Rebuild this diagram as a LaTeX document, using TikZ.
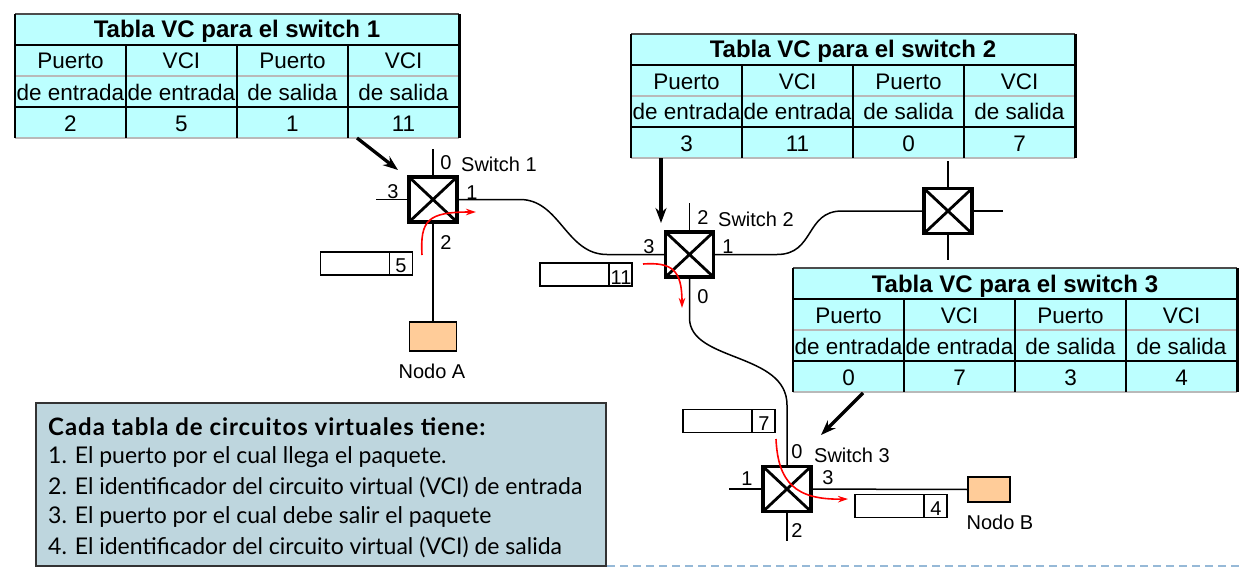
\documentclass[tikz,border=0pt]{standalone}
\usepackage{fontspec}
\setmainfont{Liberation Sans}
\newfontfamily\gillfont{Lato}
\newfontfamily\gillbold[LetterSpace=4]{Lato Bold}
\usetikzlibrary{arrows.meta}
\definecolor{tcyan}{RGB}{188,255,255}
\definecolor{peach}{RGB}{255,204,153}
\definecolor{boxbg}{RGB}{190,214,222}
\definecolor{dashblue}{RGB}{150,185,215}
\definecolor{gridgray}{RGB}{185,185,185}
\tikzset{
 txt/.style={inner sep=0pt, font=\fontsize{20}{20}\selectfont},
 celltxt/.style={inner sep=0pt, anchor=base, font=\fontsize{22.5}{22.5}\selectfont},
 titletxt/.style={inner sep=0pt, anchor=base, font=\fontsize{24}{24}\selectfont\bfseries},
 swbox/.style={draw, line width=3.8pt, minimum width=48pt, minimum height=45pt, inner sep=0pt, outer sep=0pt, fill=white},
 diag/.style={line width=2.8pt},
 wire/.style={line width=1.5pt},
 nodo/.style={draw, line width=1.5pt, fill=peach, inner sep=0pt, outer sep=0pt},
 pkt/.style={draw, line width=1.2pt, fill=white, minimum width=92pt, minimum height=23pt, inner sep=0pt, outer sep=0pt},
 redarrow/.style={red, line width=1.6pt, -{Stealth[length=10pt,width=6.5pt]}},
 blackarrow/.style={line width=3.3pt, -{Stealth[length=15pt,width=11pt]}},
 boxtxt/.style={inner sep=0pt, anchor=west, font=\gillfont\fontsize{23}{23}\selectfont},
}
% name, x, y, switch number, four values
\newcommand{\vctable}[8]{%
 \begin{scope}[shift={(#2,#3)}]
 \fill[tcyan] (0,0) rectangle (444,124);
 \draw[gridgray, line width=2pt] (0,62) -- (444,62);
 \draw[gridgray, line width=1.2pt] (0,124) -- (444,124);
 \draw[black!70, line width=1.5pt] (0,0) -- (444,0);
 \draw[line width=2pt] (0,31) -- (444,31);
 \draw[line width=2pt] (0,93) -- (444,93);
 \draw[line width=1.5pt] (0,0) -- (0,124);
 \draw[line width=3pt] (444,0) -- (444,124);
 \foreach \c in {111,222,333} \draw[line width=1.5pt] (\c,31) -- (\c,124);
 \node[titletxt] (#1title) at (222,24) {Tabla VC para el switch #4};
 \node[celltxt] (#1ha) at (55.5,55) {Puerto};
 \node[celltxt] (#1hb) at (166.5,55) {VCI};
 \node[celltxt] (#1hc) at (277.5,55) {Puerto};
 \node[celltxt] (#1hd) at (388.5,55) {VCI};
 \node[celltxt] (#1ia) at (55.5,86) {de entrada};
 \node[celltxt] (#1ib) at (166.5,86) {de entrada};
 \node[celltxt] (#1ic) at (277.5,86) {de salida};
 \node[celltxt] (#1id) at (388.5,86) {de salida};
 \node[celltxt] (#1va) at (55.5,117) {#5};
 \node[celltxt] (#1vb) at (166.5,117) {#6};
 \node[celltxt] (#1vc) at (277.5,117) {#7};
 \node[celltxt] (#1vd) at (388.5,117) {#8};
 \end{scope}}
\newcommand{\swx}[1]{\draw[diag] (#1.north west) -- (#1.south east) (#1.north east) -- (#1.south west);}
\begin{document}
\begin{tikzpicture}[x=1pt,y=-1pt]
\useasboundingbox (0,0) rectangle (1243,578);
% tables
\vctable{ta}{15}{14}{1}{2}{5}{1}{11}
\vctable{tb}{631}{34}{2}{3}{11}{0}{7}
\vctable{tc}{793}{268}{3}{0}{7}{3}{4}
% end nodes
\node[nodo, minimum width=47pt, minimum height=29pt] (nA) at (433,336.5) {};
\node[txt] (nAl) at (432,371) {Nodo A};
\node[nodo, minimum width=42pt, minimum height=25pt] (nB) at (989,489.5) {};
\node[txt] (nBl) at (1000,522) {Nodo B};
% switch positions
\coordinate (c1) at (433,199.5);
\coordinate (c2) at (689.5,254.5);
\coordinate (c4) at (948,211);
\coordinate (c3) at (787,489);
% wires
\draw[wire] (c1) -- ++(0,-50.5) coordinate (s1t);
\draw[wire] (c1) -- ++(-57,0) coordinate (s1l);
\draw[wire] (c1) -- (nA.north);
\draw[wire] (c1) -- (520,199.5) .. controls (560,199.5) and (566,254.5) .. (607,254.5) -- (c2);
\draw[wire] (c2) -- ++(0,-51.5) coordinate (s2t);
\draw[wire] (c2) -- (777,254.5) .. controls (815,254.5) and (805,211) .. (842,211) -- (c4);
\draw[wire] (c2) -- (689.5,318) .. controls (689.5,362) and (787,352) .. (787,405) -- (c3);
\draw[wire] (c4) -- ++(0,-50) coordinate (s4t);
\draw[wire] (c4) -- ++(0,49) coordinate (s4b);
\draw[wire] (c4) -- ++(55,0) coordinate (s4r);
\draw[wire] (c3) -- ++(-58,0) coordinate (s3l);
\draw[wire] (c3) -- ++(0,52) coordinate (s3b);
\draw[wire] (c3) -- (nB.west);
% switches
\node[swbox] (s1) at (c1) {}; \swx{s1}
\node[swbox] (s2) at (c2) {}; \swx{s2}
\node[swbox] (s4) at (c4) {}; \swx{s4}
\node[swbox] (s3) at (c3) {}; \swx{s3}
% port labels
\node[txt] (p10) at (446,163) {0};
\node[txt, anchor=west] (sw1) at (461,164) {Switch 1};
\node[txt] (p13) at (393,192) {3};
\node[txt] (p11) at (472,193) {1};
\node[txt] (p12) at (446,243) {2};
\node[txt] (p22) at (703,218) {2};
\node[txt, anchor=west] (sw2) at (718,219) {Switch 2};
\node[txt] (p23) at (649,247) {3};
\node[txt] (p21) at (728,247) {1};
\node[txt] (p20) at (703,297) {0};
\node[txt] (p30) at (797,452) {0};
\node[txt, anchor=west] (sw3) at (814,455) {Switch 3};
\node[txt] (p31) at (747,479) {1};
\node[txt] (p33) at (828,478) {3};
\node[txt] (p32) at (797,531) {2};
% packets
\node[pkt] (k5) at (366.5,263.5) {};
\draw[line width=1.2pt] ([xshift=69pt]k5.north west) -- ([xshift=69pt]k5.south west);
\node[txt] (k5n) at (401,266) {5};
\node[pkt] (k11) at (586,274.5) {};
\draw[line width=1.2pt] ([xshift=69pt]k11.north west) -- ([xshift=69pt]k11.south west);
\node[txt] (k11n) at (621,278) {11};
\node[pkt] (k7) at (729,421) {};
\draw[line width=1.2pt] ([xshift=69pt]k7.north west) -- ([xshift=69pt]k7.south west);
\node[txt] (k7n) at (764,424) {7};
\node[pkt] (k4) at (901,506) {};
\draw[line width=1.2pt] ([xshift=69pt]k4.north west) -- ([xshift=69pt]k4.south west);
\node[txt] (k4n) at (936,509) {4};
% red path arrows
\coordinate (r1a) at (422,255); \coordinate (r1b) at (476,212);
\draw[redarrow] (r1a) .. controls (420,220) and (428,212) .. (r1b);
\coordinate (r2a) at (643,264); \coordinate (r2b) at (682,308);
\draw[redarrow] (r2a) .. controls (672,262) and (682,270) .. (r2b);
\coordinate (r3a) at (776,439); \coordinate (r3b) at (848,499);
\draw[redarrow] (r3a) .. controls (778,482) and (795,500) .. (r3b);
% black pointer arrows
\coordinate (a1a) at (357,138); \coordinate (a1b) at (398,170);
\draw[blackarrow] (a1a) -- (a1b);
\coordinate (a2a) at (661,158); \coordinate (a2b) at (661,223);
\draw[blackarrow] (a2a) -- (a2b);
\coordinate (a3a) at (863,393); \coordinate (a3b) at (821,435);
\draw[blackarrow] (a3a) -- (a3b);
% text box
\node[draw=black!80, line width=1.5pt, fill=boxbg, minimum width=570pt, minimum height=163pt, inner sep=0pt] (tbox) at (321,484.5) {};
\node[boxtxt, font=\gillbold\fontsize{24}{24}\selectfont] (l0) at (48,427) {Cada tabla de circuitos virtuales tiene:};
\node[boxtxt] (l1) at (48,457) {1. El puerto por el cual llega el paquete.};
\node[boxtxt] (l2) at (48,487) {2. El identificador del circuito virtual (VCI) de entrada};
\node[boxtxt] (l3) at (48,517) {3. El puerto por el cual debe salir el paquete};
\node[boxtxt] (l4) at (48,547) {4. El identificador del circuito virtual (VCI) de salida};
% dashed rule
\coordinate (d1) at (607,566); \coordinate (d2) at (1240,566);
\draw[dashblue, line width=1.5pt, dash pattern=on 8pt off 5pt] (d1) -- (d2);
\end{tikzpicture}
\end{document}
